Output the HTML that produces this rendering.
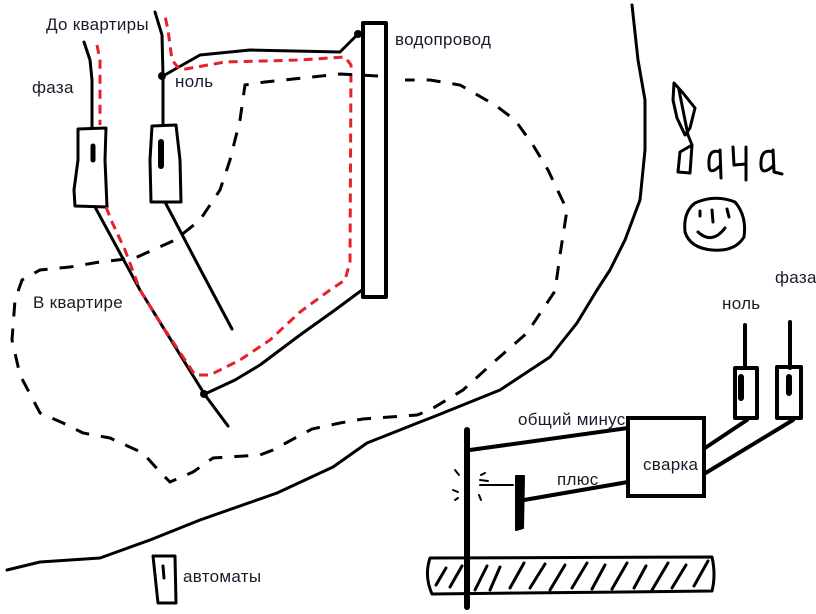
<!DOCTYPE html>
<html><head><meta charset="utf-8"><style>
html,body{margin:0;padding:0;background:#fff;width:816px;height:614px;overflow:hidden}
svg{display:block}
text{font-family:"Liberation Sans",sans-serif;font-size:17px;letter-spacing:0.3px;fill:#1a1a2a}
</style></head><body>
<svg width="816" height="614" viewBox="0 0 816 614" xmlns="http://www.w3.org/2000/svg">
<g fill="none" stroke="#000" stroke-width="3" stroke-linecap="round" stroke-linejoin="round">
<path d="M84,42 L90,60 L92,80 L92,128"/>
<path d="M155,12 L162,35 L163,76 L163,125"/>
<path d="M78,129 L106,128 L105,160 L107,207 L75,206 L74,190 L78,160 Z"/>
<path d="M152,126 L176,125 L180,160 L181,202 L151,202 L150,160 Z"/>
<path d="M93,146 L93,160" stroke-width="5"/>
<path d="M161,142 L161,166" stroke-width="6"/>
<path d="M95,207 L140,290 L205,395 L228,426"/>
<path d="M165,202 L198,265 L232,329"/>
<path d="M207,393 L235,380 L260,365 L300,335 L335,310 L362,290"/>
<path d="M163,76 L200,55 L250,50 L340,52 L358,34"/>
<rect x="363" y="23" width="23" height="274" stroke-width="4"/>
<path d="M632,5 L638,60 L645,100 L645,150 L640,200 L625,240 L610,270 L597,290 L577,323 L550,357 L500,390 L433,417 L420,422 L367,443 L333,467 L277,493 L200,520 L150,540 L100,558 L40,562 L7,570"/>
<path d="M153,556 L175,556 L176,603 L158,603 Z"/>
<path d="M163,566 L164,578" stroke-width="3"/>
</g>
<circle cx="162" cy="76" r="4"/>
<circle cx="204" cy="394" r="4"/>
<circle cx="358" cy="34" r="4"/>
<path d="M97,45 L100,60 L100,125 M106,207 L112,222 L125,250 L140,290 L165,330 L195,375 L210,375 L240,360 L270,340 L300,312 L330,290 L345,280 L350,262 L351,65 L345,57 L300,60 L225,62 L180,70 L172,60 L168,30 L165,16" fill="none" stroke="#e8202a" stroke-width="3" stroke-dasharray="9,6"/>
<path d="M378,76 L340,74 L265,82 L245,85 L240,120 L230,160 L220,190 L200,220 L175,240 L135,258 L100,262 L70,267 L40,270 L22,280 L15,300 L12,340 L20,375 L40,413 L63,423 L83,433 L110,438 L143,453 L160,472 L170,482 L193,472 L213,458 L260,455 L273,450 L297,437 L312,429 L340,423 L363,419 L417,415 L430,410 L463,390 L495,361 L527,333 L555,291 L560,255 L567,210 L548,170 L533,145 L515,120 L495,105 L460,85 L430,80 L405,80" fill="none" stroke="#000" stroke-width="3" stroke-dasharray="14,12"/>
<g fill="none" stroke="#000" stroke-width="3" stroke-linecap="round" stroke-linejoin="round">
<path d="M467,430 L467,607" stroke-width="6"/>
<path d="M470,450 L628,428" stroke-width="4"/>
<rect x="628" y="418" width="76" height="78" stroke-width="4"/>
<path d="M524,500 L628,482" stroke-width="4"/>
<path d="M480,485 L513,485" stroke-width="2"/>
<path d="M516,476 L524,476 L523,528 L516,530 Z" fill="#000" stroke-width="2"/>
<path d="M455,470 L459,475 M453,490 L458,492 M455,500 L458,498 M481,475 L485,473 M480,480 L488,481 M479,495 L481,500" stroke-width="2"/>
<path d="M745,325 L745,368 M790,322 L790,368" stroke-width="4"/>
<rect x="735" y="368" width="22" height="50" stroke-width="4"/>
<rect x="777" y="367" width="24" height="51" stroke-width="4"/>
<path d="M741,377 L741,398 M789,377 L789,393" stroke-width="6"/>
<path d="M705,448 L747,420 M704,474 L793,420" stroke-width="4"/>
<path d="M430,558 L712,557 Q716,575 712,591 L432,594 Q424,576 430,558 Z"/>
<path d="M436,585 L446,568 M450,587 L462,566 M475,590 L487,566 M490,590 L500,567 M510,588 L524,563 M530,588 L545,564 M550,590 L565,565 M572,588 L587,563 M592,589 L605,565 M612,589 L627,563 M634,588 L646,566 M652,590 L668,563 M672,588 L686,565 M694,586 L708,561"/>
<!-- Дача -->
<path d="M674,83 L683,93 L695,108 L690,128 L685,135 L677,118 L673,100 Z M679,90 L688,135 L692,145 L680,152 L678,172 L690,173 L692,145"/>
<path d="M720,152 Q708,148 709,165 Q709,176 720,166 M720,150 L721,178 M733,147 L734,165 L746,164 M746,147 L746,180 M773,152 Q760,148 761,166 Q762,176 773,166 M773,150 L774,172 L782,174"/>
<path d="M695,203 Q715,194 735,202 Q747,216 744,237 Q735,252 712,250 Q690,248 685,232 Q683,212 695,203 Z"/>
<path d="M700,211 L700,216 M712,210 L713,222 M727,209 L729,217 M698,232 Q712,245 725,228"/>
</g>
<text x="46" y="30">До квартиры</text>
<text x="32" y="93">фаза</text>
<text x="175" y="87">ноль</text>
<text x="395" y="45">водопровод</text>
<text x="33" y="308">В квартире</text>
<text x="183" y="582">автоматы</text>
<text x="775" y="283">фаза</text>
<text x="722" y="309">ноль</text>
<text x="518" y="425">общий минус</text>
<rect x="630" y="420" width="72" height="74" fill="#fff"/>
<text x="643" y="470">сварка</text>
<text x="557" y="485">плюс</text>
<rect x="628" y="418" width="76" height="78" fill="none" stroke="#000" stroke-width="4"/>
</svg>
</body></html>
